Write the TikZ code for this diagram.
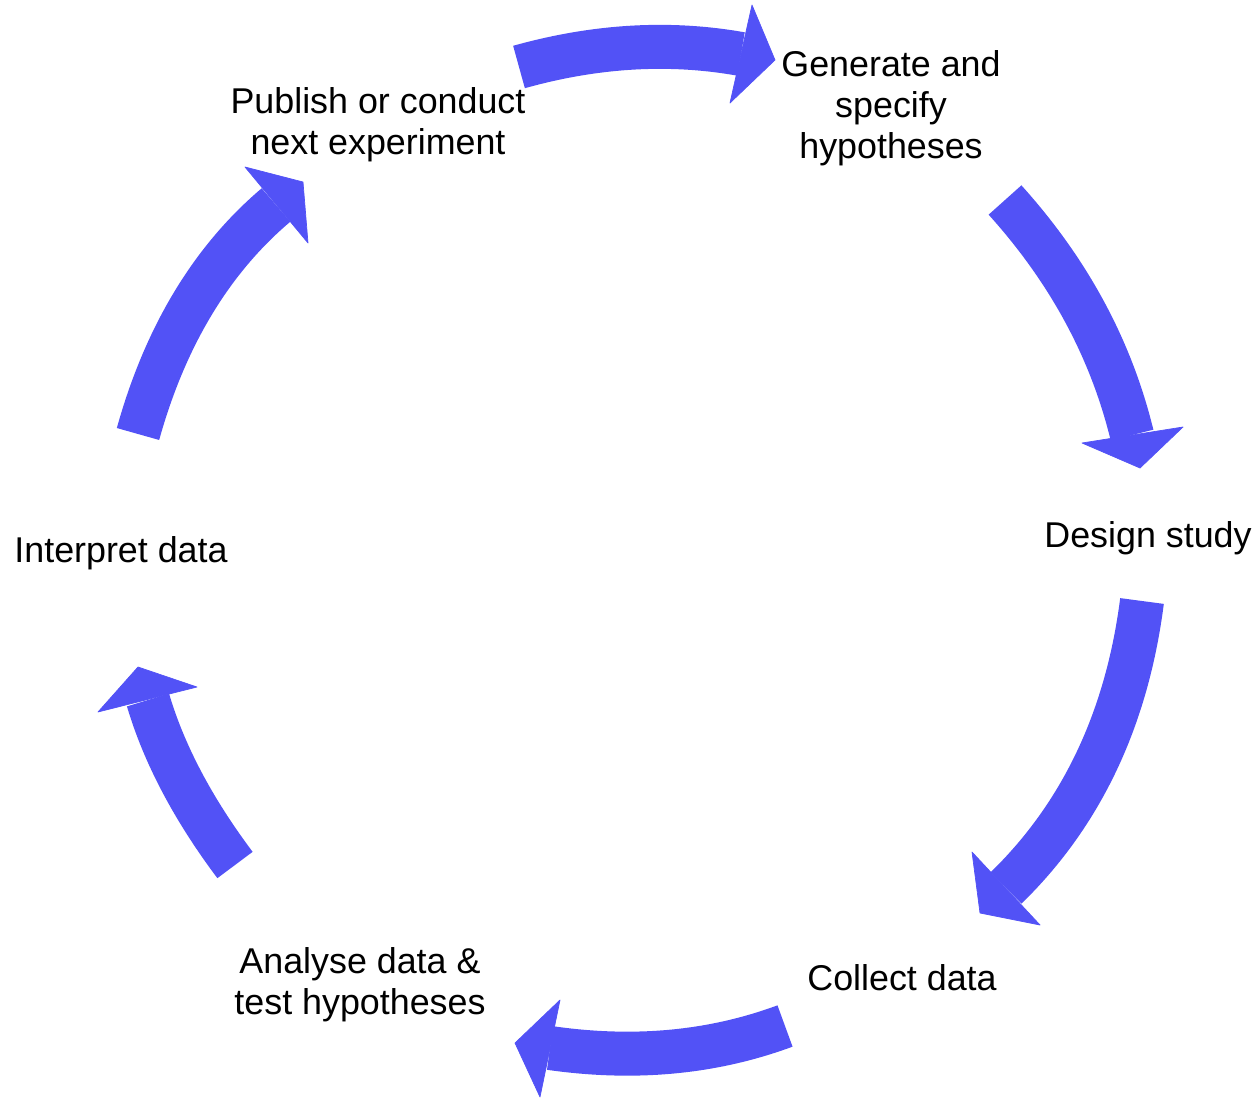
\documentclass[tikz,border=0pt]{standalone}
\usepackage{fontspec}
\setmainfont{Liberation Sans}
\definecolor{arrowblue}{RGB}{82,82,246}
\begin{document}
\begin{tikzpicture}[x=0.02cm,y=-0.02cm,
  lbl/.style={inner sep=0pt,align=center,font=\fontsize{20.4}{23.2}\selectfont},
  shaft/.style={draw=arrowblue,line width=0.88cm,line cap=butt},
  head/.style={fill=arrowblue,draw=arrowblue,line width=0.4pt,line join=round}]
\useasboundingbox (0,0) rectangle (1257,1098);
% labels
\node[lbl] (gen) at (891,108) {Generate and\\specify\\hypotheses};
\node[lbl] (des) at (1148,538) {Design study};
\node[lbl] (col) at (902,978) {Collect data};
\node[lbl] (ana) at (360,985) {Analyse data \&\\test hypotheses};
\node[lbl] (int) at (121,553) {Interpret data};
\node[lbl] (pub) at (378,125) {Publish or conduct\\next experiment};
% arrow 1: publish -> generate
\coordinate (t1) at (519,67); \coordinate (h1) at (741,54);
\coordinate (h1a) at (752,5); \coordinate (h1t) at (775,60); \coordinate (h1b) at (730,103);
\draw[shaft] (t1) .. controls (594,46) and (668,41) .. (h1);
\filldraw[head] (h1a) -- (h1t) -- (h1b) -- cycle;
% arrow 2: generate -> design
\coordinate (t2) at (1005,200); \coordinate (h2) at (1132,435);
\coordinate (h2a) at (1082,443); \coordinate (h2t) at (1140,468); \coordinate (h2b) at (1183,427);
\draw[shaft] (t2) .. controls (1069,271) and (1111,349) .. (h2);
\filldraw[head] (h2a) -- (h2t) -- (h2b) -- cycle;
% arrow 3: design -> collect
\coordinate (t3) at (1142,601); \coordinate (h3) at (1006,888);
\coordinate (h3a) at (972,852); \coordinate (h3t) at (980,913); \coordinate (h3b) at (1040,925);
\draw[shaft] (t3) .. controls (1127,718) and (1082,814) .. (h3);
\filldraw[head] (h3a) -- (h3t) -- (h3b) -- cycle;
% arrow 4: collect -> analyse
\coordinate (t4) at (785,1026); \coordinate (h4) at (550,1048);
\coordinate (h4a) at (560,1000); \coordinate (h4t) at (515,1043); \coordinate (h4b) at (540,1097);
\draw[shaft] (t4) .. controls (712,1053) and (634,1060) .. (h4);
\filldraw[head] (h4a) -- (h4t) -- (h4b) -- cycle;
% arrow 5: analyse -> interpret
\coordinate (t5) at (235,865); \coordinate (h5) at (148,700);
\coordinate (h5a) at (98,712); \coordinate (h5t) at (138,667); \coordinate (h5b) at (197,687);
\draw[shaft] (t5) .. controls (193,809) and (164,754) .. (h5);
\filldraw[head] (h5a) -- (h5t) -- (h5b) -- cycle;
% arrow 6: interpret -> publish
\coordinate (t6) at (138,434); \coordinate (h6) at (276,205);
\coordinate (h6a) at (245,167); \coordinate (h6t) at (303,182); \coordinate (h6b) at (308,243);
\draw[shaft] (t6) .. controls (165,337) and (211,260) .. (h6);
\filldraw[head] (h6a) -- (h6t) -- (h6b) -- cycle;
\end{tikzpicture}
\end{document}
